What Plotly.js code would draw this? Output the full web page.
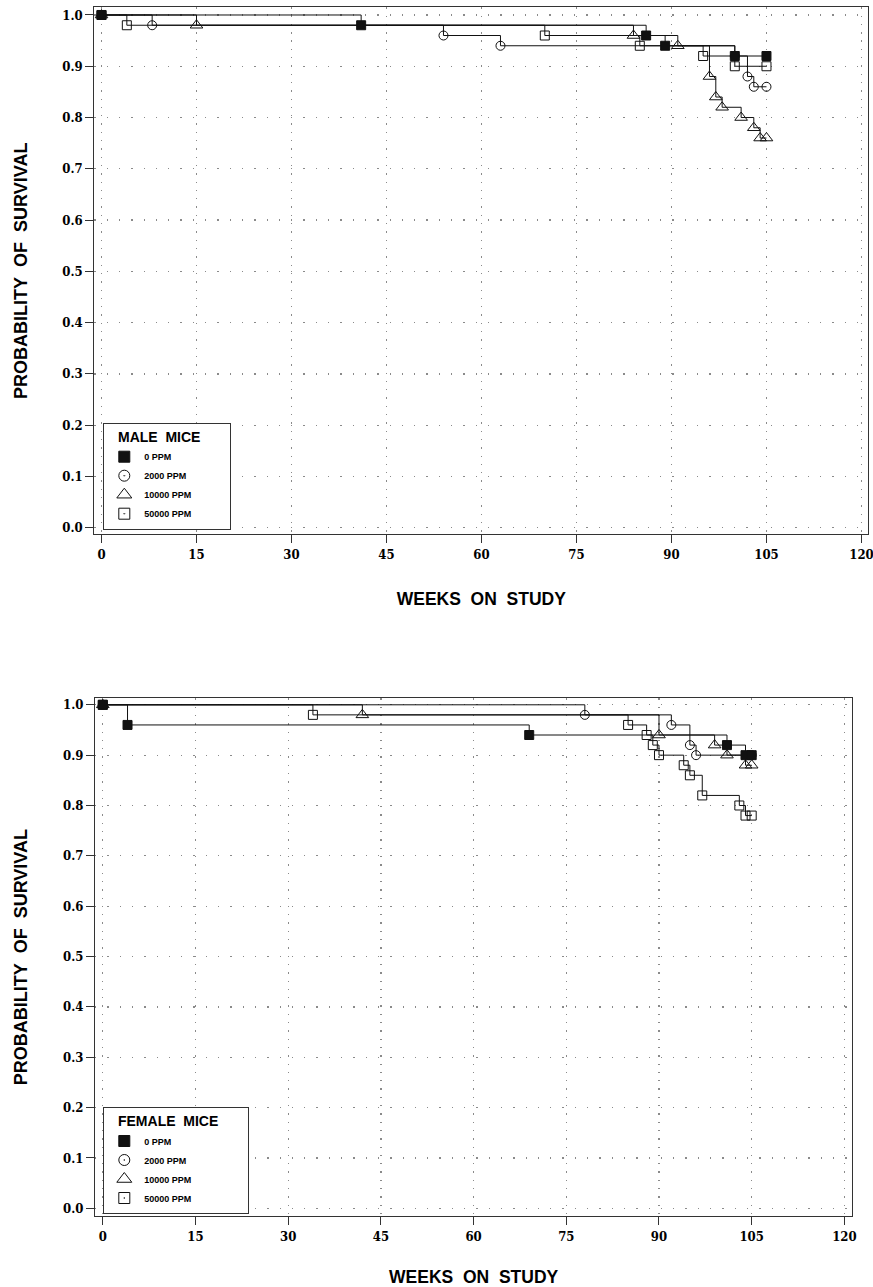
<!DOCTYPE html>
<html>
<head>
<meta charset="utf-8">
<script src="https://cdn.plot.ly/plotly-3.0.1.min.js"></script>
<style>
  html, body { margin: 0; padding: 0; background: #fff; }
  #chart { width: 873px; height: 1287px; }
</style>
</head>
<body>
<div id="chart"></div>
<script>
// ---------- Data ----------
const groups = ["0 PPM", "2000 PPM", "10000 PPM", "50000 PPM"];
const xTicks = [0, 15, 30, 45, 60, 75, 90, 105, 120];
const yTicks = [0.0, 0.1, 0.2, 0.3, 0.4, 0.5, 0.6, 0.7, 0.8, 0.9, 1.0];

// Male mice: weeks of death/censoring and survival probability after each step
const maleWeeks0     = [0, 41, 86, 89, 100, 105];
const maleSurv0      = [1.00, 0.98, 0.96, 0.94, 0.92, 0.92];
const maleWeeks2000  = [0, 8, 54, 63, 100, 102, 103, 105];
const maleSurv2000   = [1.00, 0.98, 0.96, 0.94, 0.92, 0.88, 0.86, 0.86];
const maleWeeks10000 = [0, 15, 84, 91, 96, 97, 98, 101, 103, 104, 105];
const maleSurv10000  = [1.00, 0.98, 0.96, 0.94, 0.88, 0.84, 0.82, 0.80, 0.78, 0.76, 0.76];
const maleWeeks50000 = [0, 4, 70, 85, 95, 100, 105];
const maleSurv50000  = [1.00, 0.98, 0.96, 0.94, 0.92, 0.90, 0.90];

// Female mice
const femaleWeeks0     = [0, 4, 69, 101, 104, 105];
const femaleSurv0      = [1.00, 0.96, 0.94, 0.92, 0.90, 0.90];
const femaleWeeks2000  = [0, 78, 92, 95, 96, 105];
const femaleSurv2000   = [1.00, 0.98, 0.96, 0.92, 0.90, 0.90];
const femaleWeeks10000 = [0, 42, 90, 99, 101, 104, 105];
const femaleSurv10000  = [1.00, 0.98, 0.94, 0.92, 0.90, 0.88, 0.88];
const femaleWeeks50000 = [0, 34, 85, 88, 89, 90, 94, 95, 97, 103, 104, 105];
const femaleSurv50000  = [1.00, 0.98, 0.96, 0.94, 0.92, 0.90, 0.88, 0.86, 0.82, 0.80, 0.78, 0.78];

// ---------- Styling ----------
const W = 873, H = 1287;
const plotSymbols   = ["square", "circle-open", "triangle-up-open", "square-open"];
const legendSymbols = ["square", "circle-open-dot", "triangle-up-open", "square-open-dot"];
const plotSizes   = [9, 9, 11, 9];
const legendSizes = [11, 11, 13, 11];
const ink = "#111";
const sansBold = { family: "Liberation Sans, Arial, sans-serif", weight: "bold", color: "#000" };
const tickFont = { family: "DejaVu Serif Condensed, Liberation Serif, serif", size: 13, weight: "bold", color: "#000" };

function px2paperX(p) { return p / W; }
function px2paperY(p) { return 1 - p / H; }

const maleData = [
  [maleWeeks0, maleSurv0], [maleWeeks2000, maleSurv2000],
  [maleWeeks10000, maleSurv10000], [maleWeeks50000, maleSurv50000]
];
const femaleData = [
  [femaleWeeks0, femaleSurv0], [femaleWeeks2000, femaleSurv2000],
  [femaleWeeks10000, femaleSurv10000], [femaleWeeks50000, femaleSurv50000]
];

const traces = [];
const drawOrder = [3, 2, 1, 0];
function addPanel(data, xa, ya, legendId) {
  drawOrder.forEach(i => {
    traces.push({
      x: data[i][0], y: data[i][1], xaxis: xa, yaxis: ya,
      type: "scatter", mode: "lines+markers",
      line: { shape: "hv", color: ink, width: 1 },
      marker: { symbol: plotSymbols[i], size: plotSizes[i], color: ink,
                line: { color: ink, width: 1 } },
      showlegend: false, hoverinfo: "x+y", name: groups[i]
    });
  });
  groups.forEach((g, i) => {
    traces.push({
      x: [null], y: [null], xaxis: xa, yaxis: ya,
      type: "scatter", mode: "markers", name: g, legend: legendId,
      marker: { symbol: legendSymbols[i], size: legendSizes[i], color: ink,
                line: { color: ink, width: 1 } },
      showlegend: true
    });
  });
}
addPanel(maleData, "x", "y", "legend");
addPanel(femaleData, "x2", "y2", "legend2");

function xAxis(domain, range, standoff) {
  return {
    domain: domain, range: range, tickvals: xTicks, ticktext: xTicks.map(String),
    ticks: "outside", ticklen: 8, tickwidth: 1, tickcolor: "#333",
    showline: true, mirror: true, linecolor: "#333", linewidth: 1,
    showgrid: true, gridcolor: "#8a8a8a", gridwidth: 1.3, griddash: "1.3px,7px",
    zeroline: false, tickfont: tickFont, automargin: false, ticklabeloverflow: "allow",
    title: { text: "WEEKS\u00a0\u00a0ON\u00a0\u00a0STUDY", font: Object.assign({ size: 17.5 }, sansBold), standoff: standoff }
  };
}
function yAxis(domain, range) {
  return {
    domain: domain, range: range, tickvals: yTicks, ticktext: yTicks.map(v => v.toFixed(1)),
    ticks: "outside", ticklen: 8, tickwidth: 1, tickcolor: "#333",
    showline: true, mirror: true, linecolor: "#333", linewidth: 1,
    showgrid: true, gridcolor: "#8a8a8a", gridwidth: 1.3, griddash: "1.3px,11px",
    zeroline: false, tickfont: tickFont, automargin: false, ticklabeloverflow: "allow",
    title: { text: "PROBABILITY\u00a0 OF\u00a0 SURVIVAL", font: Object.assign({ size: 18 }, sansBold), standoff: 30 }
  };
}

function legendBox(xpx, ypx, title, padTitle) {
  return {
    x: px2paperX(xpx), y: px2paperY(ypx), xanchor: "left", yanchor: "top",
    bgcolor: "#fff", bordercolor: "#333", borderwidth: 1,
    font: Object.assign({ size: 9 }, sansBold),
    title: { text: "\u00a0\u00a0\u00a0" + title + padTitle, font: Object.assign({ size: 14 }, sansBold) },
    tracegroupgap: 0, itemwidth: 30, traceorder: "normal"
  };
}

const layout = {
  width: W, height: H,
  margin: { l: 0, r: 0, t: 0, b: 0 },
  paper_bgcolor: "#fff", plot_bgcolor: "#fff",
  showlegend: true,
  xaxis:  xAxis([px2paperX(94.3), px2paperX(868.3)], [-1.137, 121.08], 31),
  yaxis:  yAxis([px2paperY(534.3), px2paperY(7.3)], [-0.0129, 1.0150]),
  xaxis2: xAxis([px2paperX(95), px2paperX(852.3)], [-1.262, 121.28], 28),
  yaxis2: yAxis([px2paperY(1216), px2paperY(698.3)], [-0.0153, 1.0129]),
  legend:  legendBox(103.3, 423, "MALE\u00a0\u00a0MICE", "\u00a0\u00a0\u00a0\u00a0\u00a0\u00a0\u00a0"),
  legend2: legendBox(103.3, 1107.3, "FEMALE\u00a0\u00a0MICE", "\u00a0\u00a0\u00a0\u00a0\u00a0\u00a0\u00a0")
};
layout.xaxis2.anchor = "y2";
layout.yaxis2.anchor = "x2";

Plotly.newPlot("chart", traces, layout, { staticPlot: true, displayModeBar: false });
</script>
</body>
</html>
